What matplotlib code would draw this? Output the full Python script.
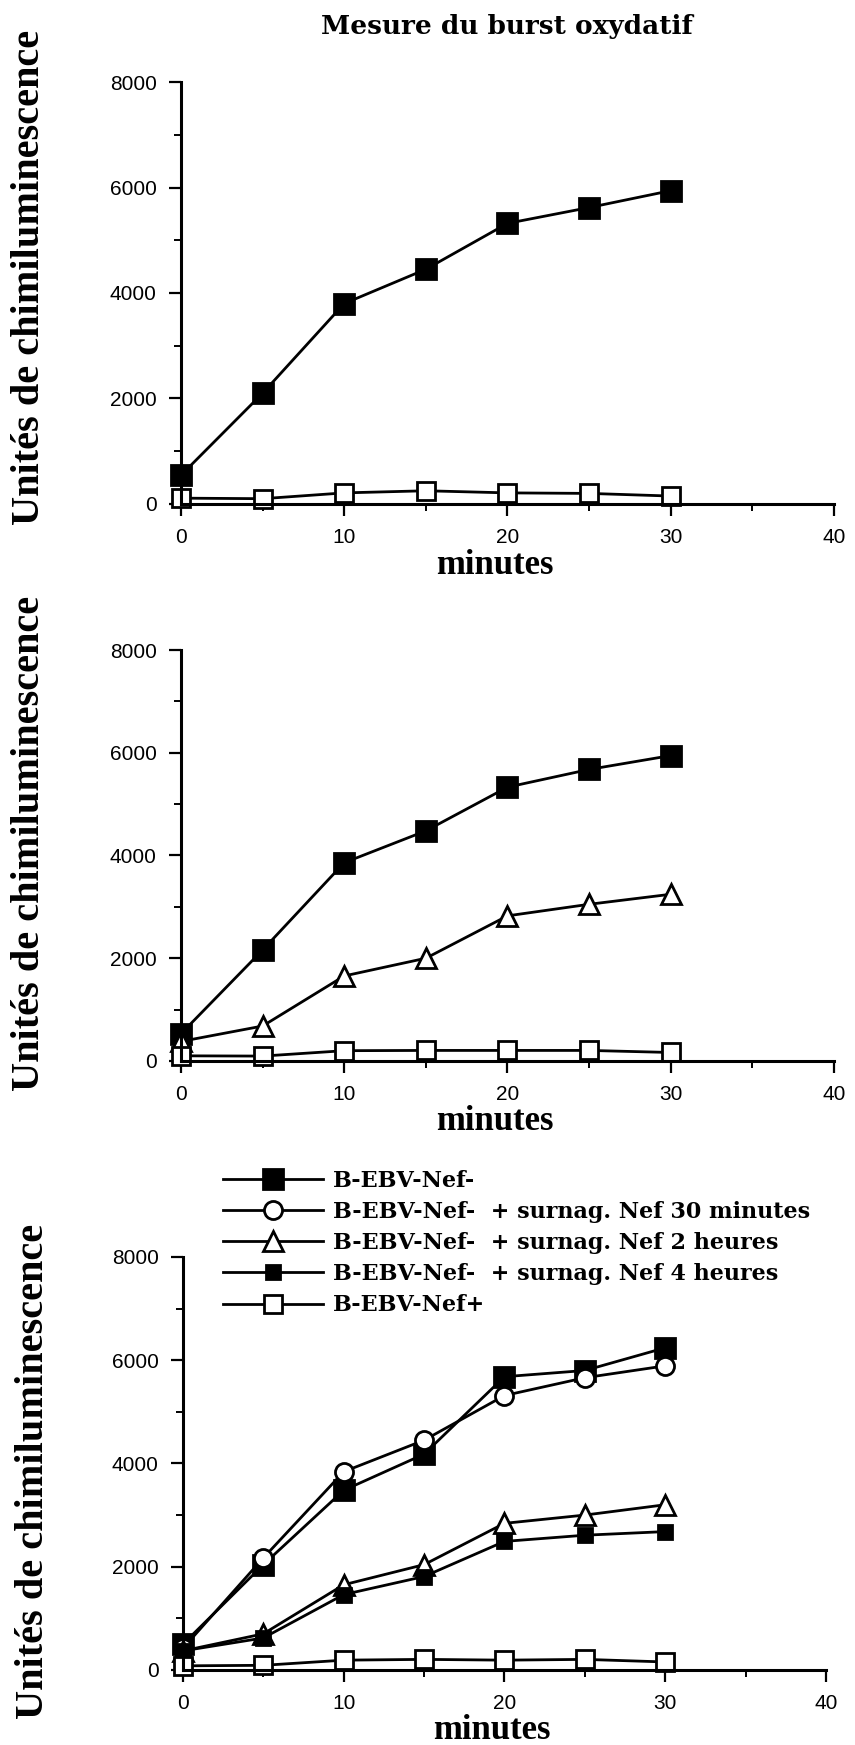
import matplotlib.pyplot as plt
from matplotlib.ticker import MultipleLocator

# temps (minutes)
minutes = [0, 5, 10, 15, 20, 25, 30]

# panneau 1
p1_nef_moins = [545, 2100, 3800, 4450, 5320, 5620, 5940]
p1_nef_plus = [110, 100, 210, 250, 210, 200, 150]

# panneau 2
p2_nef_moins = [530, 2160, 3860, 4480, 5330, 5675, 5945]
p2_surnag_2h = [380, 680, 1655, 2000, 2825, 3050, 3245]
p2_nef_plus = [100, 95, 200, 205, 205, 205, 165]

# panneau 3
p3_nef_moins = [500, 2040, 3480, 4180, 5680, 5800, 6240]
p3_surnag_30min = [420, 2170, 3840, 4450, 5315, 5660, 5890]
p3_surnag_2h = [370, 700, 1650, 2040, 2840, 3000, 3200]
p3_surnag_4h = [370, 620, 1460, 1810, 2490, 2610, 2680]
p3_nef_plus = [80, 90, 190, 205, 190, 205, 155]

labels = ['B-EBV-Nef-',
          'B-EBV-Nef-  + surnag. Nef 30 minutes',
          'B-EBV-Nef-  + surnag. Nef 2 heures',
          'B-EBV-Nef-  + surnag. Nef 4 heures',
          'B-EBV-Nef+']

styles = {
    'nef_moins': dict(marker='s', ms=14, mfc='black', mec='black'),
    'surnag_30min': dict(marker='o', ms=13, mfc='white', mec='black'),
    'surnag_2h': dict(marker='^', ms=15, mfc='white', mec='black'),
    'surnag_4h': dict(marker='s', ms=10, mfc='black', mec='black'),
    'nef_plus': dict(marker='s', ms=13, mfc='white', mec='black'),
}

panels = [
    ([0.2117, 0.7112, 0.7637, 0.2418], [('nef_moins', p1_nef_moins), ('nef_plus', p1_nef_plus)], 0.536),
    ([0.2117, 0.3920, 0.7637, 0.2355], [('nef_moins', p2_nef_moins), ('surnag_2h', p2_surnag_2h),
                                        ('nef_plus', p2_nef_plus)], 0.53),
    ([0.2140, 0.0430, 0.7520, 0.2367], [('nef_moins', p3_nef_moins), ('surnag_30min', p3_surnag_30min),
                                        ('surnag_2h', p3_surnag_2h), ('surnag_4h', p3_surnag_4h),
                                        ('nef_plus', p3_nef_plus)], 0.48),
]

label_font = dict(family='Liberation Serif', weight='bold')

fig = plt.figure(figsize=(8.55, 17.45), dpi=100)

for rect, series, ylab_y in panels:
    ax = fig.add_axes(rect)
    for key, values in series:
        ax.plot(minutes, values, color='black', lw=2.0, mew=2.0, clip_on=False, **styles[key])
    ax.set_xlim(0, 40)
    ax.set_ylim(0, 8000)
    ax.spines['top'].set_visible(False)
    ax.spines['right'].set_visible(False)
    ax.spines['left'].set_linewidth(2.2)
    ax.spines['bottom'].set_linewidth(2.2)
    ax.xaxis.set_major_locator(MultipleLocator(10))
    ax.xaxis.set_minor_locator(MultipleLocator(5))
    ax.yaxis.set_major_locator(MultipleLocator(2000))
    ax.yaxis.set_minor_locator(MultipleLocator(1000))
    ax.tick_params(which='major', direction='out', length=8.5, width=1.6, pad=9,
                   labelsize=15, labelfontfamily='Liberation Sans')
    ax.tick_params(which='minor', direction='out', length=5, width=1.4)
    ax.set_ylabel('Unités de chimiluminescence', fontsize=29, va='center', **label_font)
    ax.yaxis.set_label_coords(-0.232, ylab_y)
    ax.set_xlabel('minutes', fontsize=25, va='center', **label_font)
    ax.xaxis.set_label_coords(0.48, -0.147)

fig.text(0.593, 0.985, 'Mesure du burst oxydatif', ha='center', va='center',
         fontsize=19, family='DejaVu Serif', weight='bold')

handles = ax.get_lines()
fig.legend(handles, labels, loc='upper left', bbox_to_anchor=(0.261, 0.3296),
           frameon=False, borderpad=0, borderaxespad=0, handlelength=4.5,
           handletextpad=0.45, labelspacing=0.41,
           prop=dict(family='DejaVu Serif', weight='bold', size=16))

fig.savefig('out.png', dpi=100, facecolor='white')
